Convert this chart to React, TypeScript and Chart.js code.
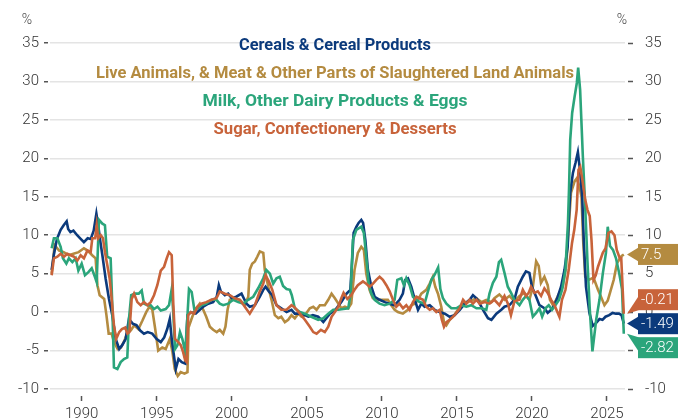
import React, { useEffect, useRef } from "react";
import { Chart, registerables } from "chart.js";

Chart.register(...registerables);

// ---- Data (year, % change) ----
const seriesNames = [
  "Cereals & Cereal Products",
  "Live Animals, & Meat & Other Parts of Slaughtered Land Animals",
  "Milk, Other Dairy Products & Eggs",
  "Sugar, Confectionery & Desserts",
];
const seriesColors = ["#0b3a7c", "#b48b40", "#2ba57b", "#c8633a"];
const endLabels = ["-1.49", "7.5", "-2.82", "-0.21"];

const cereals: [number, number][] = [
  [1988.0, 5.5], [1988.15, 7.5], [1988.35, 9.5], [1988.6, 10.7], [1988.8, 11.3], [1989.0, 11.8],
  [1989.1, 10.8], [1989.25, 10.4], [1989.45, 10.6], [1989.7, 10.0], [1989.9, 9.6], [1990.15, 9.1],
  [1990.4, 9.6], [1990.6, 9.5], [1990.8, 10.6], [1990.98, 12.8], [1991.1, 11.3], [1991.25, 9.1],
  [1991.38, 7.4], [1991.6, 4.3], [1991.82, 1.7], [1992.04, -0.4], [1992.27, -3.5], [1992.5, -4.8],
  [1992.7, -4.3], [1992.93, -3.5], [1993.15, -0.9], [1993.4, -1.5], [1993.65, -1.7], [1993.9, -2.4],
  [1994.15, -2.8], [1994.4, -2.6], [1994.7, -2.8], [1995.0, -3.5], [1995.27, -3.9], [1995.5, -3.3],
  [1995.7, -2.2], [1995.87, -0.9], [1996.0, -3.5], [1996.15, -5.7], [1996.27, -7.4], [1996.45, -6.1],
  [1996.67, -6.5], [1996.9, -6.7], [1997.05, -0.4], [1997.27, 0.0], [1997.6, -0.2], [1997.87, 0.3],
  [1998.1, 0.7], [1998.43, 1.1], [1998.76, 1.3], [1999.0, 2.0], [1999.14, 3.5], [1999.27, 2.7],
  [1999.54, 2.2], [1999.76, 2.4], [2000.0, 1.8], [2000.3, 2.0], [2000.65, 2.4], [2000.8, 1.8],
  [2000.98, 1.1], [2001.2, 0.7], [2001.54, 0.9], [2001.87, 2.0], [2002.1, 2.9], [2002.25, 3.3],
  [2002.47, 2.7], [2002.7, 2.2], [2002.98, 0.9], [2003.3, 0.5], [2003.65, 0.0], [2003.98, 0.3],
  [2004.2, -0.2], [2004.65, -0.2], [2005.1, -0.6], [2005.4, -0.4], [2005.76, -0.6], [2006.1, -1.3],
  [2006.3, -0.8], [2006.54, -0.2], [2006.9, 0.3], [2007.3, 1.3], [2007.65, 2.4], [2007.9, 2.9],
  [2008.0, 6.0], [2008.12, 10.3], [2008.3, 11.1], [2008.45, 11.6], [2008.63, 12.0], [2008.75, 11.6],
  [2008.9, 9.4], [2009.07, 5.5], [2009.3, 3.3], [2009.52, 2.0], [2009.85, 1.6], [2010.2, 1.3],
  [2010.5, 1.1], [2010.85, 0.9], [2011.18, 1.6], [2011.4, 2.4], [2011.56, 4.2], [2011.74, 4.4],
  [2011.96, 3.3], [2012.2, 1.6], [2012.41, 0.3], [2012.63, 1.1], [2012.85, 0.7], [2013.19, 0.9],
  [2013.52, 0.3], [2013.85, 0.0], [2014.2, -0.2], [2014.52, -0.6], [2014.85, -0.4], [2015.19, 0.3],
  [2015.52, 1.1], [2015.85, 1.6], [2016.07, 2.2], [2016.3, 1.8], [2016.52, 1.1], [2016.74, 0.3],
  [2017.07, -0.8], [2017.3, -1.0], [2017.63, -0.2], [2017.96, 0.3], [2018.17, 0.7], [2018.5, 0.9],
  [2018.83, 1.6], [2019.06, 3.3], [2019.39, 4.6], [2019.6, 5.3], [2019.83, 5.1], [2020.0, 3.3],
  [2020.28, 2.0], [2020.5, 0.9], [2020.83, 0.5], [2021.05, -0.1], [2021.28, 0.3], [2021.5, 0.9],
  [2021.72, 2.0], [2021.94, 3.3], [2022.17, 5.5], [2022.38, 8.5], [2022.45, 12.0], [2022.55, 15.5],
  [2022.73, 18.1], [2022.9, 19.4], [2023.06, 20.8], [2023.2, 18.5], [2023.35, 15.0], [2023.45, 9.4],
  [2023.6, 3.3], [2023.83, -0.1], [2024.05, -1.8], [2024.28, -1.4], [2024.5, -0.9], [2024.7, -1.0],
  [2024.9, -0.6], [2025.15, -0.4], [2025.37, -0.1], [2025.6, -0.2], [2025.8, -0.2], [2025.97, -0.4],
  [2026.12, -1.49],
];

const liveAnimals: [number, number][] = [
  [1988.0, 5.0], [1988.2, 8.7], [1988.5, 8.0], [1988.8, 7.8], [1989.15, 7.4], [1989.45, 7.6],
  [1989.8, 7.8], [1990.15, 8.3], [1990.4, 8.0], [1990.7, 7.4], [1990.93, 7.0], [1991.05, 3.5],
  [1991.2, 2.2], [1991.5, 1.7], [1991.65, -0.4], [1991.8, -2.8], [1992.0, -2.8], [1992.15, -3.9],
  [1992.4, -4.8], [1992.62, -4.6], [1992.85, -3.7], [1993.05, -2.6], [1993.27, -2.4], [1993.5, -1.7],
  [1993.78, -2.2], [1994.05, -1.1], [1994.3, 0.0], [1994.5, 0.65], [1994.7, 0.4], [1994.9, -2.2],
  [1995.1, -5.0], [1995.37, -4.6], [1995.6, -4.8], [1995.87, -3.5], [1996.05, -5.2], [1996.2, -7.4],
  [1996.4, -8.3], [1996.6, -7.8], [1996.85, -8.0], [1997.05, -7.8], [1997.12, -2.0], [1997.3, -1.0],
  [1997.54, 0.3], [1997.87, 1.1], [1998.1, 0.3], [1998.3, -0.6], [1998.54, -1.9], [1998.76, -2.3],
  [1999.0, -2.6], [1999.2, -2.3], [1999.43, -2.8], [1999.58, -1.9], [1999.72, 0.3], [1999.87, 1.6],
  [2000.2, 1.8], [2000.54, 1.6], [2000.87, 0.9], [2001.1, 2.0], [2001.2, 5.5], [2001.36, 6.3],
  [2001.54, 6.6], [2001.7, 7.2], [2001.87, 7.9], [2002.1, 7.7], [2002.2, 5.5], [2002.43, 3.3],
  [2002.65, 1.6], [2002.87, -0.4], [2003.1, -0.8], [2003.3, -0.6], [2003.54, -1.3], [2003.76, -1.0],
  [2003.98, -0.4], [2004.2, -0.8], [2004.43, -0.2], [2004.65, -0.6], [2004.87, -0.4], [2005.2, 0.5],
  [2005.43, 0.7], [2005.65, 0.3], [2005.87, 0.9], [2006.2, 0.9], [2006.43, 1.6], [2006.65, 2.4],
  [2006.87, 1.8], [2007.1, 1.1], [2007.3, 0.5], [2007.54, 0.7], [2007.76, 0.5], [2007.96, 1.1],
  [2008.18, 5.5], [2008.4, 7.7], [2008.63, 8.5], [2008.8, 8.1], [2008.96, 5.0], [2009.18, 2.9],
  [2009.4, 1.8], [2009.74, 1.6], [2010.07, 1.6], [2010.4, 1.6], [2010.63, 0.9], [2010.85, 0.3],
  [2011.07, 0.0], [2011.4, -0.2], [2011.74, 0.3], [2011.96, 0.9], [2012.2, 1.1], [2012.41, 1.6],
  [2012.63, 2.4], [2012.96, 2.9], [2013.19, 3.7], [2013.4, 4.6], [2013.56, 3.3], [2013.74, 2.4],
  [2013.96, 0.7], [2014.14, -1.3], [2014.3, -1.7], [2014.52, -1.0], [2014.74, -0.6], [2015.07, 0.3],
  [2015.41, 1.1], [2015.74, 1.3], [2016.07, 1.6], [2016.3, 1.8], [2016.63, 1.3], [2016.96, 1.6],
  [2017.3, 1.3], [2017.5, 1.8], [2017.83, 2.3], [2018.17, 1.6], [2018.5, 2.1], [2018.83, 1.4],
  [2019.17, 2.1], [2019.5, 2.5], [2019.83, 1.6], [2020.06, 3.3], [2020.28, 6.6], [2020.45, 6.0],
  [2020.6, 3.8], [2020.83, 4.6], [2021.05, 3.5], [2021.2, 1.6], [2021.4, 0.9], [2021.61, 1.6],
  [2021.83, 2.5], [2022.05, 3.3], [2022.28, 6.0], [2022.45, 11.0], [2022.6, 15.5], [2022.84, 17.0],
  [2022.99, 17.4], [2023.17, 16.3], [2023.3, 15.0], [2023.42, 9.0], [2023.55, 4.6], [2023.8, 4.2],
  [2024.1, 4.5], [2024.4, 2.9], [2024.6, 2.0], [2024.83, 0.9], [2025.05, 1.5], [2025.45, 4.2],
  [2025.67, 6.4], [2025.98, 7.3], [2026.12, 7.5],
];

const milkDairyEggs: [number, number][] = [
  [1988.0, 8.3], [1988.15, 9.6], [1988.38, 9.6], [1988.6, 8.5], [1988.75, 7.0], [1988.98, 6.3],
  [1989.15, 7.0], [1989.38, 6.5], [1989.6, 7.0], [1989.78, 5.4], [1990.0, 6.3], [1990.22, 4.8],
  [1990.45, 5.2], [1990.67, 5.7], [1990.88, 4.6], [1991.0, 3.9], [1991.15, 12.0], [1991.38, 11.5],
  [1991.55, 11.3], [1991.7, 7.2], [1991.93, 7.0], [1992.04, 0.9], [1992.15, -7.2], [1992.38, -7.4],
  [1992.6, -6.5], [1992.82, -6.1], [1993.04, -5.9], [1993.15, -0.9], [1993.3, 2.2], [1993.55, 2.4],
  [1993.8, 2.4], [1994.0, 2.8], [1994.15, 1.1], [1994.38, 0.9], [1994.6, 0.9], [1994.82, 0.4],
  [1995.05, 0.7], [1995.27, 0.2], [1995.6, 0.4], [1995.82, 0.9], [1996.0, 3.0], [1996.1, 0.0],
  [1996.22, -4.8], [1996.38, -4.3], [1996.55, -2.6], [1996.71, -3.5], [1996.9, -5.2], [1997.05, -0.4],
  [1997.15, 3.0], [1997.33, 2.6], [1997.5, 0.4], [1997.75, 0.5], [1997.98, 0.9], [1998.3, 1.1],
  [1998.65, 1.6], [1998.98, 1.6], [1999.2, 1.1], [1999.43, 0.9], [1999.76, 1.1], [2000.1, 1.6],
  [2000.43, 1.3], [2000.76, 1.1], [2001.1, 1.6], [2001.43, 2.0], [2001.76, 3.1], [2002.1, 4.4],
  [2002.3, 5.5], [2002.54, 5.0], [2002.76, 3.7], [2002.98, 4.4], [2003.2, 4.6], [2003.42, 3.4],
  [2003.65, 3.0], [2003.87, 2.9], [2004.0, 2.2], [2004.2, 0.5], [2004.54, 0.0], [2004.87, -0.2],
  [2005.3, -0.6], [2005.76, -1.0], [2006.1, -0.8], [2006.43, -0.2], [2006.76, 0.3], [2007.1, 0.3],
  [2007.43, 0.4], [2007.76, 0.5], [2007.92, 2.4], [2008.07, 9.4], [2008.3, 10.7], [2008.63, 11.1],
  [2008.8, 10.3], [2008.96, 7.2], [2009.12, 3.7], [2009.3, 2.4], [2009.52, 1.6], [2009.85, 1.1],
  [2010.18, 0.9], [2010.52, 1.1], [2010.85, 1.6], [2011.03, 4.2], [2011.3, 4.4], [2011.47, 3.5],
  [2011.63, 4.4], [2011.85, 3.5], [2012.07, 2.0], [2012.3, 1.6], [2012.52, 1.3], [2012.85, 1.1],
  [2013.07, 2.7], [2013.3, 4.2], [2013.5, 4.8], [2013.75, 5.8], [2013.9, 3.0], [2014.07, 1.8],
  [2014.3, 1.1], [2014.63, 0.5], [2014.96, 0.5], [2015.3, 0.9], [2015.63, 0.7], [2015.96, 0.9],
  [2016.3, 0.5], [2016.63, 0.5], [2016.96, 0.3], [2017.17, 2.4], [2017.4, 3.8], [2017.63, 4.6],
  [2017.8, 6.5], [2017.95, 6.8], [2018.17, 5.1], [2018.39, 3.3], [2018.61, 2.5], [2018.83, 1.6],
  [2019.17, 0.9], [2019.39, 1.6], [2019.61, 2.1], [2019.83, 1.6], [2020.06, -0.6], [2020.28, -0.1],
  [2020.5, 0.5], [2020.68, -0.6], [2020.9, 0.5], [2021.12, 0.9], [2021.34, 0.3], [2021.56, 0.9],
  [2021.8, 1.6], [2022.01, 2.9], [2022.23, 5.5], [2022.4, 11.6], [2022.47, 16.0], [2022.55, 22.4],
  [2022.68, 25.9], [2022.84, 28.0], [2022.99, 29.8], [2023.08, 31.8], [2023.21, 28.9], [2023.39, 20.3],
  [2023.55, 13.7], [2023.7, 6.5], [2023.85, 0.5], [2024.03, -5.1], [2024.28, -1.0], [2024.5, 1.6],
  [2024.72, 5.0], [2024.93, 7.7], [2025.05, 11.1], [2025.2, 8.6], [2025.4, 8.1], [2025.6, 7.0],
  [2025.82, 5.0], [2026.0, 3.0], [2026.12, -2.82],
];

const sugarConfectionery: [number, number][] = [
  [1988.0, 4.8], [1988.15, 7.0], [1988.38, 7.2], [1988.6, 7.6], [1988.82, 7.2], [1989.04, 7.6],
  [1989.27, 7.4], [1989.5, 7.2], [1989.71, 6.7], [1989.93, 7.4], [1990.15, 7.0], [1990.38, 8.0],
  [1990.6, 7.8], [1990.71, 9.6], [1990.9, 9.6], [1991.0, 11.3], [1991.1, 9.6], [1991.27, 10.0],
  [1991.42, 9.6], [1991.55, 7.8], [1991.71, 6.1], [1991.87, 4.3], [1992.0, 1.7], [1992.15, -1.7],
  [1992.3, -3.5], [1992.5, -2.6], [1992.68, -2.2], [1992.9, -2.0], [1993.05, -2.8], [1993.18, -2.6],
  [1993.33, 1.7], [1993.49, 2.4], [1993.71, 1.3], [1993.93, 0.9], [1994.15, 1.3], [1994.38, 0.9],
  [1994.6, 1.3], [1994.82, 2.2], [1995.04, 3.5], [1995.27, 5.4], [1995.49, 5.9], [1995.67, 7.0],
  [1995.82, 7.8], [1996.0, 7.4], [1996.1, 1.3], [1996.22, -3.5], [1996.44, -3.9], [1996.6, -4.3],
  [1996.76, -5.2], [1996.9, -6.3], [1997.0, -6.5], [1997.1, -0.4], [1997.27, 0.0], [1997.5, -0.2],
  [1997.72, 0.7], [1997.98, 1.1], [1998.3, 1.3], [1998.65, 1.6], [1998.98, 1.8], [1999.2, 2.7],
  [1999.54, 2.4], [1999.87, 2.2], [2000.2, 1.8], [2000.54, 1.6], [2000.87, 0.7], [2001.2, -0.2],
  [2001.54, 0.9], [2001.87, 2.7], [2002.1, 3.7], [2002.25, 4.8], [2002.47, 4.0], [2002.7, 2.9],
  [2002.98, 0.9], [2003.3, 0.3], [2003.65, 0.3], [2003.98, 0.9], [2004.2, 0.6], [2004.54, -0.2],
  [2004.87, -1.0], [2005.2, -1.9], [2005.43, -2.6], [2005.65, -2.8], [2005.94, -2.3], [2006.2, -2.6],
  [2006.43, -1.9], [2006.65, -0.6], [2006.87, 0.0], [2007.1, 0.7], [2007.3, 1.8], [2007.45, 2.5],
  [2007.7, 1.7], [2007.96, 2.2], [2008.18, 2.9], [2008.4, 3.5], [2008.74, 4.0], [2008.96, 3.7],
  [2009.19, 3.3], [2009.41, 3.7], [2009.63, 4.2], [2009.85, 4.6], [2010.07, 4.2], [2010.3, 3.5],
  [2010.52, 2.7], [2010.74, 1.6], [2010.96, 0.7], [2011.18, 1.1], [2011.41, 0.5], [2011.63, 0.9],
  [2011.85, 0.3], [2012.07, 1.3], [2012.3, 2.0], [2012.52, 1.8], [2012.74, 1.6], [2012.96, 0.7],
  [2013.19, 0.3], [2013.4, 0.5], [2013.63, 0.0], [2013.85, 0.3], [2014.0, -1.0], [2014.14, -1.9],
  [2014.3, -1.3], [2014.52, -1.0], [2014.85, -0.4], [2015.19, 0.5], [2015.41, 1.6], [2015.63, 1.1],
  [2015.85, 1.6], [2016.07, 1.1], [2016.3, 1.6], [2016.52, 1.1], [2016.85, 1.3], [2017.18, 1.1],
  [2017.5, 1.6], [2017.83, 0.9], [2018.17, 2.1], [2018.4, 1.1], [2018.6, -0.4], [2018.83, 1.4],
  [2019.17, 1.6], [2019.39, 2.9], [2019.61, 2.1], [2019.78, 2.5], [2019.94, 3.3], [2020.17, 2.5],
  [2020.39, 2.7], [2020.61, 2.1], [2020.83, 3.1], [2021.05, 2.5], [2021.28, 1.6], [2021.5, 0.9],
  [2021.72, -0.1], [2021.83, -0.6], [2022.0, 1.6], [2022.23, 2.9], [2022.45, 5.5], [2022.67, 9.0],
  [2022.82, 10.7], [2022.98, 13.3], [2023.1, 18.5], [2023.22, 18.9], [2023.36, 17.2], [2023.55, 14.6],
  [2023.7, 13.3], [2023.85, 12.5], [2023.97, 9.3], [2024.1, 4.2], [2024.25, 4.8], [2024.4, 5.9],
  [2024.72, 7.7], [2024.9, 8.3], [2025.1, 10.3], [2025.3, 10.5], [2025.5, 10.0], [2025.65, 8.1],
  [2025.85, 7.0], [2025.95, 7.0], [2026.12, -0.21],
];

const seriesData = [cereals, liveAnimals, milkDairyEggs, sugarConfectionery];
const drawOrder = [2, 3, 1, 0]; // higher = drawn earlier (further back)
const xTickYears = [1990, 1995, 2000, 2005, 2010, 2015, 2020, 2025];
const yTickValues = [-10, -5, 0, 5, 10, 15, 20, 25, 30, 35];

const FONT = "Roboto, 'Open Sans', sans-serif";

const overlayPlugin = {
  id: "overlay",
  afterDraw(chart: any) {
    const ctx: CanvasRenderingContext2D = chart.ctx;
    const area = chart.chartArea;
    const yScale = chart.scales.y;
    ctx.save();

    // unit labels
    ctx.fillStyle = "#444";
    ctx.font = `300 14px ${FONT}`;
    ctx.textAlign = "center";
    ctx.textBaseline = "middle";
    ctx.fillText("%", 27, 20);
    ctx.fillText("%", 622, 20);

    // series titles (legend)
    const titleY = [46, 74, 102, 130];
    const titleW = [192, 478, 265, 243];
    const cx = 335;
    ctx.font = `bold 16px ${FONT}`;
    seriesNames.forEach((name, i) => {
      const w = ctx.measureText(name).width;
      const sx = titleW[i] / w;
      ctx.save();
      ctx.translate(cx, titleY[i]);
      ctx.scale(sx, 1);
      ctx.fillStyle = seriesColors[i];
      ctx.fillText(name, 0, 0);
      ctx.restore();
    });

    // end-value tags
    const items = seriesData.map((d, i) => {
      const v = d[d.length - 1][1];
      return { i, vy: yScale.getPixelForValue(v), cy: yScale.getPixelForValue(v) };
    });
    items.sort((a, b) => a.vy - b.vy);
    const gap = 24;
    for (let iter = 0; iter < 50; iter++) {
      let moved = false;
      for (let k = 0; k < items.length - 1; k++) {
        const a = items[k], b = items[k + 1];
        const overlap = gap - (b.cy - a.cy);
        if (overlap > 0.01) {
          a.cy -= overlap / 2;
          b.cy += overlap / 2;
          moved = true;
        }
      }
      if (!moved) break;
    }
    const bx = 638, bw = 40, bh = 21, tipX = area.right + 2;
    ctx.font = `300 15px ${FONT}`;
    ctx.textAlign = "left";
    ctx.textBaseline = "middle";
    items.forEach((it) => {
      const top = it.cy - bh / 2, bottom = it.cy + bh / 2;
      ctx.fillStyle = seriesColors[it.i];
      ctx.fillRect(bx, top, bw, bh);
      let b1 = Math.min(Math.max(it.vy, top), bottom) - 7;
      b1 = Math.max(top, Math.min(b1, bottom - 14));
      ctx.beginPath();
      ctx.moveTo(bx + 0.5, b1);
      ctx.lineTo(tipX, it.vy);
      ctx.lineTo(bx + 0.5, b1 + 14);
      ctx.closePath();
      ctx.fill();
      ctx.fillStyle = "#ffffff";
      ctx.fillText(endLabels[it.i], bx + 3, it.cy + 0.5);
    });
    ctx.restore();
  },
};

export default function App() {
  const canvasRef = useRef<HTMLCanvasElement>(null);

  useEffect(() => {
    document.body.style.margin = "0";
    const canvas = canvasRef.current;
    if (!canvas) return;
    const tickFont = { family: FONT, size: 15, weight: "300" as any };
    const chart = new Chart(canvas, {
      type: "line",
      data: {
        datasets: seriesData.map((d, i) => ({
          label: seriesNames[i],
          data: d.map(([x, y]) => ({ x, y })),
          borderColor: seriesColors[i],
          backgroundColor: seriesColors[i],
          borderWidth: 2.6,
          pointRadius: 0,
          tension: 0,
          fill: false,
          order: drawOrder[i],
        })),
      },
      options: {
        animation: false,
        responsive: false,
        maintainAspectRatio: false,
        devicePixelRatio: 1,
        layout: { padding: { top: 43, left: 0, right: 0, bottom: 0 }, autoPadding: false } as any,
        plugins: { legend: { display: false }, tooltip: { enabled: false } },
        scales: {
          x: {
            type: "linear",
            position: "bottom",
            min: 1987.89,
            max: 2026.2,
            border: { display: false },
            grid: {
              drawOnChartArea: false,
              drawTicks: true,
              tickLength: 12,
              tickColor: "#555",
              tickWidth: 1.5,
              tickBorderDash: [0, 7, 5, 100],
            } as any,
            ticks: {
              font: tickFont,
              color: "#333",
              padding: 4,
              autoSkip: false,
              maxRotation: 0,
              callback: (v: any) => String(v),
            },
            afterBuildTicks: (s: any) => {
              s.ticks = xTickYears.map((v) => ({ value: v }));
            },
            afterFit: (s: any) => {
              s.height = 31;
            },
          },
          y: {
            type: "linear",
            position: "left",
            min: -10,
            max: 35,
            border: { display: false },
            grid: {
              color: "#e4e4e4",
              lineWidth: 1.5,
              drawTicks: true,
              tickLength: 6,
              tickColor: "#555",
              tickWidth: 1.5,
              tickBorderDash: [4, 100],
            } as any,
            ticks: { font: tickFont, color: "#333", padding: 5 },
            afterBuildTicks: (s: any) => {
              s.ticks = yTickValues.map((v) => ({ value: v }));
            },
            afterFit: (s: any) => {
              s.width = 50;
            },
          },
          y2: {
            type: "linear",
            position: "right",
            min: -10,
            max: 35,
            border: { display: false },
            grid: {
              drawOnChartArea: false,
              drawTicks: true,
              tickLength: 8,
              tickColor: "#555",
              tickWidth: 1.5,
              tickBorderDash: [0, 3, 5, 100],
            } as any,
            ticks: { font: tickFont, color: "#333", padding: 12 },
            afterBuildTicks: (s: any) => {
              s.ticks = yTickValues.map((v) => ({ value: v }));
            },
            afterFit: (s: any) => {
              s.width = 69;
            },
          },
        },
      },
      plugins: [overlayPlugin],
    });
    return () => chart.destroy();
  }, []);

  return (
    <div style={{ width: 694, height: 420 }}>
      <canvas ref={canvasRef} width={694} height={420} style={{ display: "block", width: 694, height: 420 }} />
    </div>
  );
}
